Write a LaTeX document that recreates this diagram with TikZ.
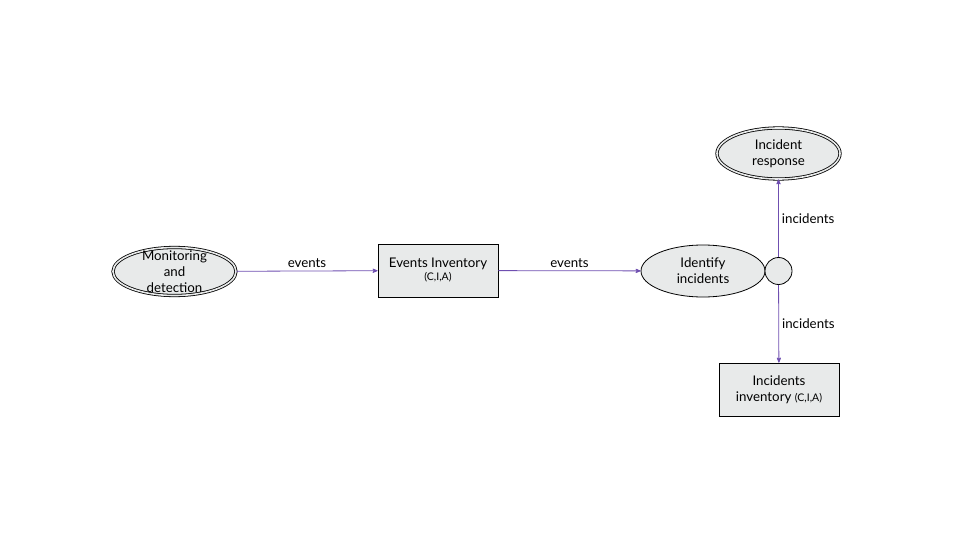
\documentclass[tikz,border=0pt]{standalone}
\usepackage{fontspec}
\setmainfont{Lato}
\usetikzlibrary{shapes}
\usetikzlibrary{arrows}
\definecolor{flowc}{HTML}{6F4FB0}
\definecolor{fillc}{HTML}{E8EAEA}
\tikzset{
	basenode/.style = {
		align=center,
		inner sep=0pt,
		text centered,
		font=\fontsize{13.3}{16}\selectfont,
		draw=black,
		fill=fillc,
		line width=0.8pt
	},
	node_ext/.style = {
		basenode,
		ellipse,
		double=fillc,
		double distance=1.6pt,
		minimum width=123pt,
		minimum height=48pt
	},
	node_proc/.style = {
		basenode,
		ellipse,
		minimum width=124pt,
		minimum height=52pt
	},
	node_store/.style = {
		basenode,
		rectangle,
		minimum width=120pt,
		minimum height=53pt
	},
	node_join/.style = {
		basenode,
		circle,
		minimum size=27pt
	},
	node_txt/.style = {
		align=center,
		inner sep=0pt,
		font=\fontsize{13.3}{16}\selectfont
	},
	flow/.style = {
		->,
		>=stealth',
		draw=flowc,
		line width=0.8pt
	},
	flowlabel/.style = {
		font=\fontsize{13.3}{15}\selectfont,
		text=black
	}
}
\begin{document}
\begin{tikzpicture}[x=1pt,y=-1pt]
\useasboundingbox (0,0) rectangle (960,540);
\node [node_ext, label={[node_txt]center:Monitoring\\and\\detection}] (monitor) at (174.5,271.5) {};
\node [node_store] (events) at (438,270.5) {Events Inventory\\[-3pt]{\fontsize{10.5}{11}\selectfont (C,I,A)}};
\node [node_proc] (identify) at (703,271) {Identify\\incidents};
\node [node_join] (join) at (778.5,271) {};
\node [node_ext, minimum height=51pt] (response) at (778.5,153.5) {Incident\\response};
\node [node_store] (incinv) at (779,389.5) {Incidents\\inventory {\fontsize{10.5}{11}\selectfont (C,I,A)}};
\draw [flow] (monitor) -- node [flowlabel, above, inner sep=3pt] {events} (events);
\draw [flow] (events) -- node [flowlabel, above, inner sep=3pt] {events} (identify);
\draw [flow] (join) -- node [flowlabel, right, inner sep=3pt] {incidents} (response);
\draw [flow] (join) -- node [flowlabel, right, inner sep=3pt] {incidents} (incinv);
\end{tikzpicture}
\end{document}
